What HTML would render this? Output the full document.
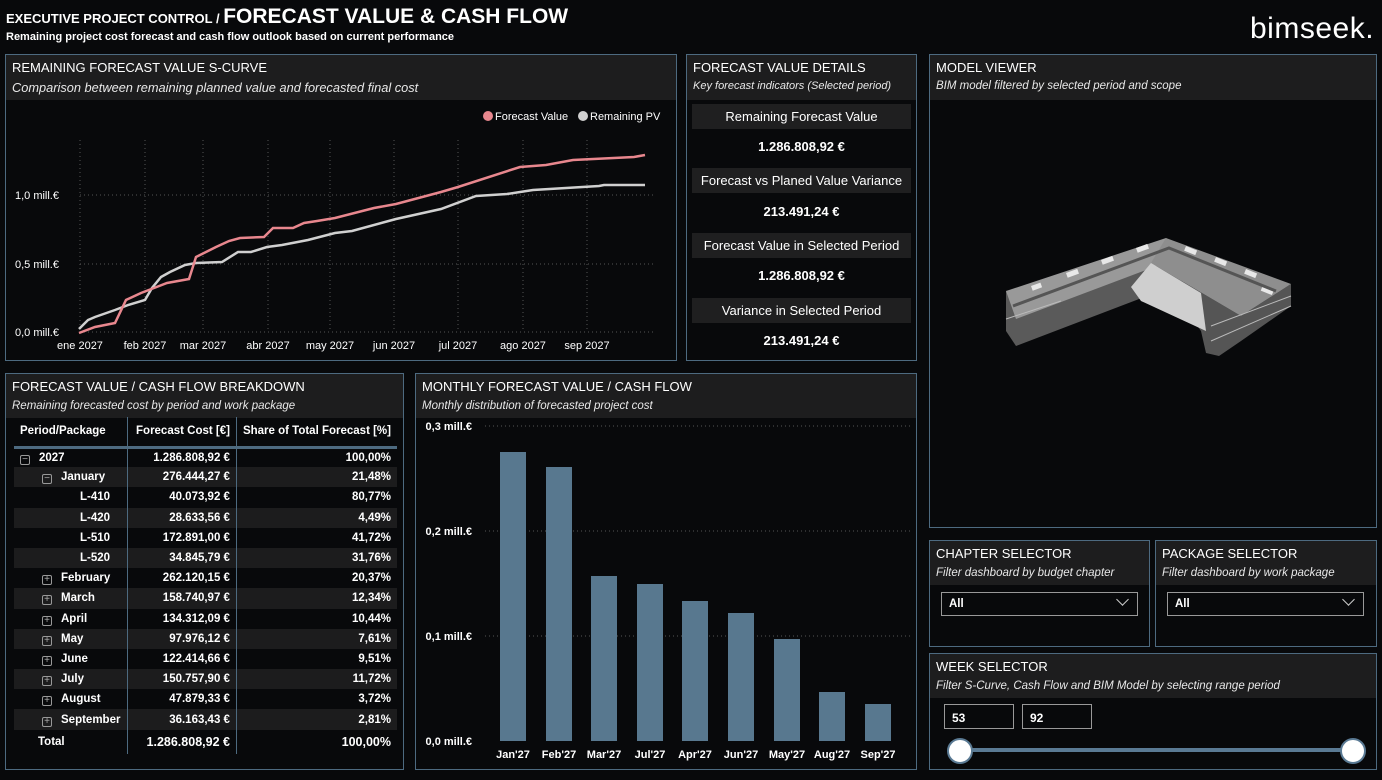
<!DOCTYPE html>
<html><head><meta charset="utf-8"><style>
*{margin:0;padding:0;box-sizing:border-box}
body{width:1382px;height:778px;background:#08090b;font-family:"Liberation Sans",Arial,sans-serif;color:#fff;position:relative;overflow:hidden}
.p{position:absolute;border:1px solid #4d6a80;background:#08090b}
.hd{background:#1d1d1e;height:45px;padding:5px 6px 0 6px}
.t{font-size:13px;line-height:15px;text-transform:uppercase}
.s{font-size:11.5px;font-style:italic;margin-top:6px;color:#e8e8e8;white-space:nowrap}
.lbl{position:absolute;left:5px;right:5px;height:25px;background:#1f1f20;font-size:13px;text-align:center;line-height:25px}
.val{position:absolute;left:5px;right:5px;font-size:13px;font-weight:bold;text-align:center}
table{border-collapse:collapse;position:absolute;left:8px;top:43px;width:383px;font-size:11.5px;font-weight:bold}
td{height:20.2px;padding:0 6px;white-space:nowrap}
td.n{text-align:right}
tr.g td{background:#1c1c1d}
.c1{width:114px}.c2{width:109px;border-left:1px solid #4d6a80;border-right:1px solid #4d6a80}
.ic{display:inline-block;width:10px;height:10px;border:1px solid #999;border-radius:2px;margin-right:9px;position:relative;top:1px;font-size:10px;line-height:7px;text-align:center;color:#aaa;font-weight:normal}
.dd{position:absolute;top:51px;height:24px;border:1px solid #999;font-size:11.5px;font-weight:bold;padding:5px 0 0 7px}
.box{position:absolute;top:50px;width:70px;height:25px;border:1px solid #999;font-size:12px;font-weight:bold;padding:6px 0 0 7px}
</style></head><body>
<div style="position:absolute;left:6px;top:5px;font-weight:bold;font-size:13px">EXECUTIVE PROJECT CONTROL / <span style="font-size:21px">FORECAST VALUE &amp; CASH FLOW</span></div>
<div style="position:absolute;left:6px;top:31px;font-weight:bold;font-size:11px">Remaining project cost forecast and cash flow outlook based on current performance</div>
<div style="position:absolute;left:1250px;top:12px;font-size:30px;letter-spacing:0.5px">bimseek.</div>

<div class="p" style="left:5px;top:54px;width:672px;height:307px">
<div class="hd"><div class="t">Remaining Forecast Value S-Curve</div><div class="s" style="font-size:12.8px;margin-top:5px">Comparison between remaining planned value and forecasted final cost</div></div>
<svg style="position:absolute;left:-6px;top:-55px" width="680" height="362" font-family="Liberation Sans" font-size="11">
<g stroke="#555" stroke-dasharray="1 3" stroke-width="1">
<line x1="80" y1="332" x2="655" y2="332"/><line x1="80" y1="264" x2="655" y2="264"/><line x1="80" y1="195" x2="655" y2="195"/>
<line x1="80" y1="140" x2="80" y2="332"/><line x1="145" y1="140" x2="145" y2="332"/><line x1="203" y1="140" x2="203" y2="332"/><line x1="268" y1="140" x2="268" y2="332"/><line x1="330" y1="140" x2="330" y2="332"/><line x1="394" y1="140" x2="394" y2="332"/><line x1="458" y1="140" x2="458" y2="332"/><line x1="523" y1="140" x2="523" y2="332"/><line x1="587" y1="140" x2="587" y2="332"/>
</g>
<g fill="#fff" text-anchor="end"><text x="59" y="336">0,0 mill.€</text><text x="59" y="268">0,5 mill.€</text><text x="59" y="199">1,0 mill.€</text></g>
<g fill="#fff" text-anchor="middle"><text x="80" y="349">ene 2027</text><text x="145" y="349">feb 2027</text><text x="203" y="349">mar 2027</text><text x="268" y="349">abr 2027</text><text x="330" y="349">may 2027</text><text x="394" y="349">jun 2027</text><text x="458" y="349">jul 2027</text><text x="523" y="349">ago 2027</text><text x="587" y="349">sep 2027</text></g>
<polyline fill="none" stroke="#d0d0d0" stroke-width="2.5" points="79,329 88,320 95,317 115,310 128,305 145,300 152,288 161,277 170,272 185,265 196,263 222,262 238,252 251,252 267,247 282,245 308,240 335,233 352,231 396,219 441,209 476,196 507,194 533,190 599,186 604,185 645,185"/>
<polyline fill="none" stroke="#e8878e" stroke-width="2.5" points="79,333 95,327 115,323 126,300 141,293 154,288 167,283 189,279 196,257 216,247 229,241 240,238 264,237 273,228 293,228 304,223 317,221 335,218 374,208 396,204 441,192 458,187 520,167 546,165 573,160 634,157 645,155"/>
<circle cx="488" cy="116" r="5" fill="#e8878e"/><text x="495" y="120" fill="#fff">Forecast Value</text>
<circle cx="583" cy="116" r="5" fill="#d0d0d0"/><text x="590" y="120" fill="#fff">Remaining PV</text>
</svg>
</div>

<div class="p" style="left:686px;top:54px;width:231px;height:307px">
<div class="hd"><div class="t">Forecast Value Details</div><div class="s" style="margin-top:5px;font-size:11px">Key forecast indicators (Selected period)</div></div>
<div class="lbl" style="top:49px">Remaining Forecast Value</div><div class="val" style="top:84px">1.286.808,92 €</div>
<div class="lbl" style="top:113px">Forecast vs Planed Value Variance</div><div class="val" style="top:149px">213.491,24 €</div>
<div class="lbl" style="top:178px">Forecast Value in Selected Period</div><div class="val" style="top:213px">1.286.808,92 €</div>
<div class="lbl" style="top:243px">Variance in Selected Period</div><div class="val" style="top:278px">213.491,24 €</div>
</div>

<div class="p" style="left:929px;top:54px;width:448px;height:474px">
<div class="hd"><div class="t">Model Viewer</div><div class="s" style="margin-top:5px">BIM model filtered by selected period and scope</div></div>
<svg style="position:absolute;left:0;top:0" width="448" height="474">
<g transform="translate(-929,-54)">
<polygon points="1005,290 1005,330 1015,345 1180,282 1182,255" fill="#5a5a5a"/>
<polygon points="1150,262 1200,330 1205,352 1218,355 1240,340 1290,305 1290,283 1240,315" fill="#555"/>
<polygon points="1005,290 1165,237 1182,255 1015,318" fill="#999"/>
<polygon points="1165,237 1290,283 1240,315 1150,262" fill="#8e8e8e"/>
<polygon points="1150,262 1200,292 1205,330 1140,300 1130,286" fill="#cfcfcf"/>
<g fill="#e8e8e8">
<rect x="1030" y="285" width="10" height="5" transform="rotate(-20 1030 285)"/><rect x="1065" y="272" width="12" height="5" transform="rotate(-20 1065 272)"/><rect x="1100" y="259" width="12" height="5" transform="rotate(-20 1100 259)"/><rect x="1135" y="247" width="12" height="5" transform="rotate(-20 1135 247)"/>
<rect x="1185" y="245" width="12" height="5" transform="rotate(22 1185 245)"/><rect x="1215" y="256" width="12" height="5" transform="rotate(22 1215 256)"/><rect x="1245" y="268" width="12" height="5" transform="rotate(22 1245 268)"/><rect x="1262" y="284" width="12" height="6" transform="rotate(22 1262 284)"/>
</g>
<polyline points="1012,305 1168,247 1275,290" fill="none" stroke="#555" stroke-width="3"/>
<g stroke="#bbb" stroke-width="1"><line x1="1005" y1="318" x2="1060" y2="300"/><line x1="1210" y1="325" x2="1290" y2="295"/><line x1="1210" y1="340" x2="1290" y2="305"/></g>
</g></svg>
</div>

<div class="p" style="left:5px;top:373px;width:399px;height:397px">
<div class="hd" style="height:44px"><div class="t">Forecast Value / Cash Flow Breakdown</div><div class="s" style="margin-top:6px">Remaining forecasted cost by period and work package</div></div>
<table>
<tr style="border-bottom:3px solid #4d6a80"><td class="c1" style="height:30px">Period/Package</td><td class="c2 n">Forecast Cost [€]</td><td class="n">Share of Total Forecast [%]</td></tr>
<tr><td class="c1"><span class="ic">−</span>2027</td><td class="c2 n">1.286.808,92 €</td><td class="n">100,00%</td></tr>
<tr class="g"><td class="c1" style="padding-left:28px"><span class="ic">−</span>January</td><td class="c2 n">276.444,27 €</td><td class="n">21,48%</td></tr>
<tr><td class="c1" style="padding-left:66px">L-410</td><td class="c2 n">40.073,92 €</td><td class="n">80,77%</td></tr>
<tr class="g"><td class="c1" style="padding-left:66px">L-420</td><td class="c2 n">28.633,56 €</td><td class="n">4,49%</td></tr>
<tr><td class="c1" style="padding-left:66px">L-510</td><td class="c2 n">172.891,00 €</td><td class="n">41,72%</td></tr>
<tr class="g"><td class="c1" style="padding-left:66px">L-520</td><td class="c2 n">34.845,79 €</td><td class="n">31,76%</td></tr>
<tr><td class="c1" style="padding-left:28px"><span class="ic">+</span>February</td><td class="c2 n">262.120,15 €</td><td class="n">20,37%</td></tr>
<tr class="g"><td class="c1" style="padding-left:28px"><span class="ic">+</span>March</td><td class="c2 n">158.740,97 €</td><td class="n">12,34%</td></tr>
<tr><td class="c1" style="padding-left:28px"><span class="ic">+</span>April</td><td class="c2 n">134.312,09 €</td><td class="n">10,44%</td></tr>
<tr class="g"><td class="c1" style="padding-left:28px"><span class="ic">+</span>May</td><td class="c2 n">97.976,12 €</td><td class="n">7,61%</td></tr>
<tr><td class="c1" style="padding-left:28px"><span class="ic">+</span>June</td><td class="c2 n">122.414,66 €</td><td class="n">9,51%</td></tr>
<tr class="g"><td class="c1" style="padding-left:28px"><span class="ic">+</span>July</td><td class="c2 n">150.757,90 €</td><td class="n">11,72%</td></tr>
<tr><td class="c1" style="padding-left:28px"><span class="ic">+</span>August</td><td class="c2 n">47.879,33 €</td><td class="n">3,72%</td></tr>
<tr class="g"><td class="c1" style="padding-left:28px"><span class="ic">+</span>September</td><td class="c2 n">36.163,43 €</td><td class="n">2,81%</td></tr>
<tr><td class="c1" style="padding-left:24px;height:24px">Total</td><td class="c2 n" style="font-size:12.5px">1.286.808,92 €</td><td class="n" style="font-size:12.5px">100,00%</td></tr>
</table>
</div>

<div class="p" style="left:415px;top:373px;width:502px;height:397px">
<div class="hd" style="height:44px"><div class="t">Monthly Forecast Value / Cash Flow</div><div class="s" style="margin-top:6px">Monthly distribution of forecasted project cost</div></div>
<svg style="position:absolute;left:-416px;top:-374px" width="920" height="780" font-family="Liberation Sans" font-size="11" font-weight="bold">
<g stroke="#555" stroke-dasharray="1 3"><line x1="485" y1="426" x2="910" y2="426"/><line x1="485" y1="531" x2="910" y2="531"/><line x1="485" y1="636" x2="910" y2="636"/></g>
<g fill="#fff" text-anchor="end"><text x="472" y="430">0,3 mill.€</text><text x="472" y="535">0,2 mill.€</text><text x="472" y="640">0,1 mill.€</text><text x="472" y="745">0,0 mill.€</text></g>
<g fill="#58788f">
<rect x="500" y="452" width="26" height="289"/><rect x="546" y="467" width="26" height="274"/><rect x="591" y="576" width="26" height="165"/><rect x="637" y="584" width="26" height="157"/><rect x="682" y="601" width="26" height="140"/><rect x="728" y="613" width="26" height="128"/><rect x="774" y="639" width="26" height="102"/><rect x="819" y="692" width="26" height="49"/><rect x="865" y="704" width="26" height="37"/>
</g>
<g fill="#fff" text-anchor="middle"><text x="513" y="758">Jan'27</text><text x="559" y="758">Feb'27</text><text x="604" y="758">Mar'27</text><text x="650" y="758">Jul'27</text><text x="695" y="758">Apr'27</text><text x="741" y="758">Jun'27</text><text x="787" y="758">May'27</text><text x="832" y="758">Aug'27</text><text x="878" y="758">Sep'27</text></g>
</svg>
</div>

<div class="p" style="left:929px;top:540px;width:221px;height:107px">
<div class="hd" style="height:44px"><div class="t">Chapter Selector</div><div class="s">Filter dashboard by budget chapter</div></div>
<div class="dd" style="left:11px;width:197px">All<span style="position:absolute;right:10px;top:2px;width:9px;height:9px;border-right:1.5px solid #ccc;border-bottom:1.5px solid #ccc;transform:rotate(45deg)"></span></div>
</div>
<div class="p" style="left:1155px;top:540px;width:222px;height:107px">
<div class="hd" style="height:44px"><div class="t">Package Selector</div><div class="s">Filter dashboard by work package</div></div>
<div class="dd" style="left:11px;width:197px">All<span style="position:absolute;right:10px;top:2px;width:9px;height:9px;border-right:1.5px solid #ccc;border-bottom:1.5px solid #ccc;transform:rotate(45deg)"></span></div>
</div>
<div class="p" style="left:929px;top:653px;width:448px;height:117px">
<div class="hd" style="height:44px"><div class="t">Week Selector</div><div class="s">Filter S-Curve, Cash Flow and BIM Model by selecting range period</div></div>
<div class="box" style="left:14px">53</div><div class="box" style="left:92px">92</div>
<div style="position:absolute;left:30px;top:94px;width:395px;height:4px;background:#5a7a94"></div>
<div style="position:absolute;left:17px;top:84px;width:26px;height:26px;border-radius:50%;background:#fff;border:2px solid #5a7a94"></div>
<div style="position:absolute;left:410px;top:84px;width:26px;height:26px;border-radius:50%;background:#fff;border:2px solid #5a7a94"></div>
</div>
</body></html>
